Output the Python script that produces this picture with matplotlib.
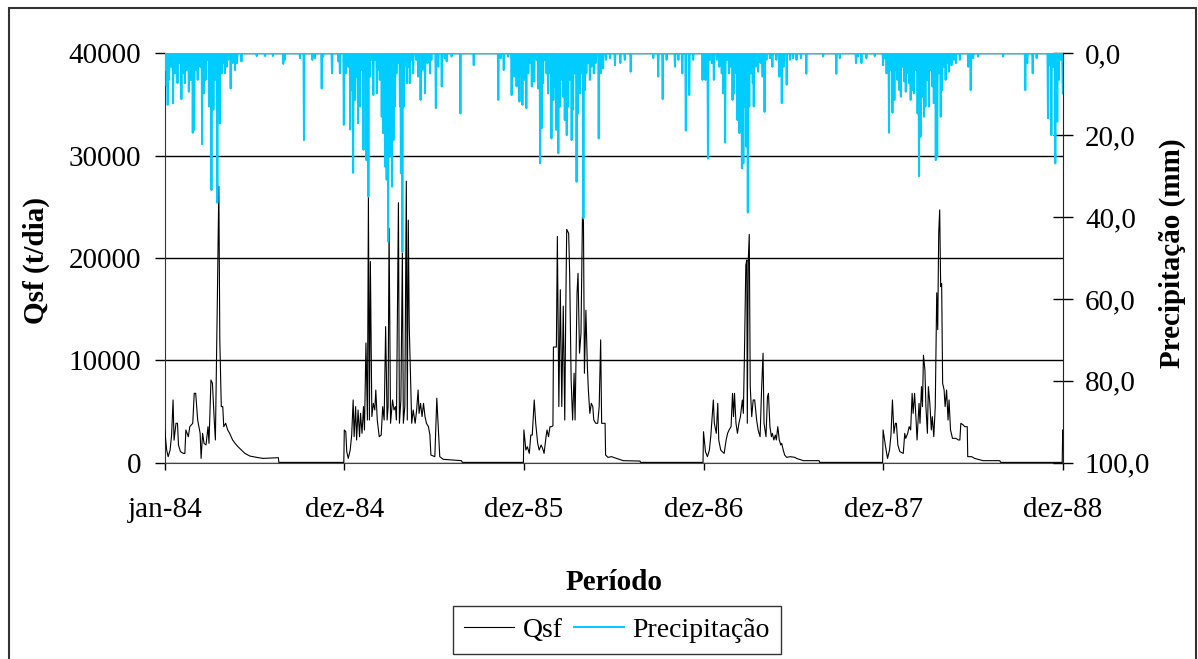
import numpy as np
import matplotlib.pyplot as plt
from matplotlib.patches import Rectangle

plt.rcParams['font.family'] = ['Liberation Serif', 'DejaVu Serif']

# daily index, 0 = 01/jan/1984
tick_days = [0, 365, 730, 1095, 1460, 1825]
tick_labels = ['jan-84', 'dez-84', 'dez-85', 'dez-86', 'dez-87', 'dez-88']

# Qsf (t/dia) breakpoints per wet season
qsf_day = [
    0, 4, 7, 11, 14, 17, 19, 23, 26, 28, 32, 38, 41, 43, 48, 51, 57, 60, 63, 67,
    72, 74, 77, 80, 84, 88, 90, 94, 97, 101, 103, 107, 110, 112, 115, 118, 120,
    124, 128, 132, 138, 143, 149, 156, 163, 173, 187, 200, 231, 232, 364,
    # 1985
    365, 368, 370, 373, 377, 380, 383, 385, 388, 390, 393, 396, 398, 401, 404,
    406, 409, 412, 414, 416, 418, 421, 424, 427, 429, 432, 436, 440, 443, 446,
    449, 452, 454, 456, 459, 463, 466, 469, 471, 475, 477, 480, 483, 485, 488,
    491, 493, 495, 497, 500, 502, 505, 509, 512, 515, 517, 520, 523, 526, 529,
    532, 536, 539, 541, 549, 553, 556, 559, 566, 603, 605, 729,
    # 1986
    730, 734, 737, 741, 744, 747, 751, 754, 758, 761, 765, 768, 771, 775, 777,
    780, 783, 786, 789, 790, 796, 798, 801, 804, 807, 810, 813, 815, 817, 821,
    823, 826, 829, 832, 834, 838, 840, 843, 846, 849, 851, 853, 856, 859, 861,
    864, 867, 870, 872, 876, 880, 883, 886, 888, 895, 896, 901, 908, 918, 932,
    966, 967, 1094,
    # 1987
    1095, 1099, 1103, 1107, 1110, 1115, 1117, 1121, 1124, 1126, 1130, 1133,
    1137, 1141, 1144, 1147, 1151, 1154, 1156, 1158, 1161, 1164, 1167, 1170,
    1174, 1176, 1178, 1181, 1183, 1184, 1186, 1188, 1190, 1193, 1196, 1199,
    1203, 1206, 1210, 1213, 1216, 1218, 1222, 1225, 1227, 1230, 1233, 1235,
    1238, 1241, 1243, 1246, 1249, 1252, 1254, 1257, 1260, 1264, 1271, 1281,
    1284, 1298, 1330, 1331, 1459,
    # 1988
    1460, 1465, 1469, 1473, 1476, 1479, 1482, 1485, 1487, 1490, 1494, 1501,
    1504, 1506, 1510, 1513, 1516, 1519, 1521, 1524, 1527, 1529, 1533, 1535,
    1538, 1540, 1542, 1545, 1547, 1550, 1552, 1555, 1558, 1560, 1563, 1566,
    1569, 1571, 1573, 1575, 1577, 1579, 1581, 1584, 1586, 1589, 1592, 1594,
    1597, 1601, 1608, 1613, 1616, 1618, 1623, 1626, 1631, 1632, 1640, 1646,
    1663, 1697, 1699, 1824, 1825, 1826,
]
qsf_val = [
    3200, 1240, 590, 1240, 2700, 6130, 2200, 3850, 3850, 1730, 1080, 910, 910,
    3200, 2540, 3520, 3850, 6780, 6780, 4170, 2870, 420, 2870, 1890, 1730, 3520,
    1890, 8080, 7760, 3850, 2220, 15900, 27000, 12000, 5480, 5480, 3520, 3850,
    3200, 2870, 2220, 1890, 1560, 1240, 910, 650, 520, 420, 490, 30, 30,
    # 1985
    3200, 3030, 1080, 420, 1240, 2700, 6130, 2540, 5480, 2220, 5150, 2540, 4820,
    2870, 5480, 3200, 11700, 4170, 26000, 4170, 19650, 4500, 5800, 5150, 7100,
    4170, 2540, 2700, 5480, 4170, 13300, 4170, 5480, 22900, 3850, 6130, 5150,
    5480, 4170, 25400, 3850, 6130, 20500, 3850, 5480, 27500, 4170, 23700, 13300,
    7760, 3850, 5150, 3850, 5150, 7100, 4820, 5800, 4500, 5800, 4500, 3850,
    3520, 2700, 750, 590, 6300, 3520, 590, 330, 200, 30, 30,
    # 1986
    3200, 1240, 1560, 910, 2700, 2700, 6130, 3850, 1890, 1240, 1730, 1400, 910,
    2540, 3200, 2540, 3520, 3520, 3600, 11300, 11300, 22100, 5480, 16900, 5480,
    15300, 4170, 14600, 22800, 22400, 18500, 8080, 4170, 8740, 4170, 16600,
    18500, 10700, 12600, 24000, 23700, 8740, 14900, 9390, 7100, 4820, 5800,
    5480, 4170, 3850, 3850, 5480, 12000, 3850, 3850, 750, 520, 590, 420, 200,
    160, 30, 30,
    # 1987
    3030, 1080, 590, 1240, 2700, 6130, 3850, 2870, 5800, 2220, 1240, 1080, 910,
    2220, 2870, 3200, 3520, 6780, 4500, 6780, 3850, 2870, 3850, 4500, 6130,
    4820, 10000, 19300, 19800, 3850, 19800, 22300, 7430, 4500, 6130, 6130,
    4170, 3200, 2540, 7100, 10700, 3850, 2540, 6450, 6780, 3520, 2540, 2870,
    2220, 2700, 2220, 3520, 2220, 1730, 1890, 1240, 750, 520, 590, 520, 420,
    200, 200, 30, 30,
    # 1988
    3200, 1560, 420, 1240, 2700, 6130, 2870, 3850, 3850, 1730, 1080, 910, 2870,
    2380, 2870, 3520, 3200, 6780, 4820, 6780, 4170, 2220, 5800, 3850, 7430,
    5480, 10500, 9060, 5480, 2870, 7430, 5800, 3200, 4500, 2540, 5480, 16600,
    13000, 22400, 24700, 17200, 17500, 7760, 7100, 5480, 7100, 4170, 6130,
    3200, 2380, 2380, 2220, 2220, 3850, 3680, 3520, 3520, 590, 590, 420, 200,
    200, 30, 30, 3200, 1200,
]

# daily rainfall (mm); days not listed had no rain
rain_day = [
    2, 4, 6, 9, 13, 17, 21, 26, 30, 34, 38, 41, 44, 49, 53, 57, 60, 63, 67, 72,
    76, 80, 83, 86, 90, 95, 99, 103, 107, 109, 112, 116, 119, 122, 126, 129,
    134, 138, 143, 147, 156, 187, 204, 220, 241, 244, 275, 283, 300, 305, 319,
    322, 340,
    353, 356, 364, 368, 373, 377, 380, 383, 387, 390, 393, 397, 400, 404, 407,
    410, 414, 417, 421, 424, 427, 431, 434, 437, 441, 444, 448, 451, 454, 456,
    459, 462, 465, 468, 471, 475, 478, 480, 483, 486, 489, 492, 495, 498, 502,
    505, 511, 515, 520, 524, 529, 534, 539, 542, 551, 556, 563, 569, 573, 583,
    601, 628, 678, 683,
    689, 698, 705, 710, 715, 721, 724, 727, 731, 735, 739, 742, 746, 751, 756,
    759, 763, 766, 769, 773, 776, 779, 783, 786, 790, 793, 796, 800, 803, 807,
    810, 813, 817, 820, 824, 827, 830, 834, 837, 840, 844, 847, 851, 854, 857,
    861, 864, 867, 872, 876, 882, 886, 891, 897, 905, 915, 926, 935, 947, 993,
    1003, 1012, 1020, 1037, 1044, 1052, 1059, 1066, 1074,
    1093, 1096, 1099, 1104, 1108, 1112, 1116, 1122, 1127, 1132, 1135, 1139,
    1143, 1147, 1151, 1154, 1157, 1161, 1164, 1168, 1170, 1173, 1176, 1179,
    1182, 1185, 1188, 1191, 1195, 1197, 1201, 1206, 1211, 1215, 1219, 1223,
    1230, 1235, 1243, 1249, 1254, 1258, 1264, 1271, 1277, 1284, 1293, 1304,
    1338, 1365, 1372, 1405, 1409, 1416, 1426, 1443,
    1460, 1464, 1467, 1472, 1476, 1479, 1483, 1486, 1489, 1493, 1496, 1500,
    1503, 1506, 1510, 1513, 1516, 1520, 1523, 1527, 1530, 1533, 1536, 1540,
    1543, 1546, 1550, 1553, 1556, 1560, 1563, 1567, 1570, 1573, 1577, 1580,
    1584, 1587, 1590, 1594, 1599, 1604, 1608, 1616, 1633, 1638, 1643, 1653,
    1704, 1749, 1753, 1764, 1772, 1795, 1799, 1802, 1806, 1810, 1814, 1817,
    1821, 1825,
]
rain_mm = [
    4.0, 8.0, 12.6, 6.5, 3.3, 12.2, 4.9, 7.3, 2.4, 11.2, 4.9, 7.3, 4.1, 9.4,
    6.5, 19.4, 18.7, 4.1, 6.5, 3.3, 22.2, 9.8, 6.5, 1.6, 13.0, 33.4, 13.8, 6.5,
    36.5, 11.4, 17.1, 4.9, 2.4, 4.9, 3.3, 1.6, 8.6, 2.4, 4.1, 2.4, 2.0, 0.7,
    0.7, 0.7, 2.6, 1.6, 1.2, 21.2, 1.6, 1.2, 8.6, 0.8, 4.9,
    2.0, 4.9, 17.5, 4.9, 3.3, 18.6, 9.0, 29.2, 11.4, 5.7, 17.1, 13.0, 4.1,
    23.6, 4.9, 26.1, 35.0, 5.7, 1.6, 10.2, 1.6, 9.8, 4.1, 6.5, 15.5, 19.5,
    27.7, 30.9, 46.0, 11.4, 25.2, 32.6, 21.2, 13.0, 4.9, 2.4, 13.0, 29.3, 48.5,
    13.0, 2.9, 7.3, 3.3, 7.3, 1.6, 4.9, 1.6, 5.7, 11.4, 4.1, 9.8, 2.4, 4.9,
    1.6, 13.4, 3.3, 8.1, 1.2, 2.0, 0.8, 14.7, 2.9, 11.4, 1.2,
    4.1, 0.8, 10.2, 5.7, 8.1, 11.8, 4.9, 12.6, 6.5, 13.4, 4.9, 2.4, 8.1, 6.9,
    1.6, 8.6, 26.9, 18.3, 7.3, 1.6, 4.9, 9.8, 4.9, 20.8, 11.4, 8.1, 18.7, 24.4,
    13.0, 6.5, 10.6, 16.3, 20.0, 13.0, 6.5, 21.2, 13.8, 4.9, 31.4, 14.7, 9.8,
    4.9, 40.3, 9.0, 4.9, 2.4, 6.5, 3.3, 4.9, 2.4, 20.8, 4.9, 3.7, 1.6, 1.2,
    2.9, 2.4, 1.6, 4.5, 1.2, 5.7, 11.2, 1.6, 3.3, 1.6, 4.9, 18.9, 10.2, 1.6,
    6.5, 3.3, 6.5, 25.7, 1.6, 2.4, 6.5, 1.6, 3.3, 4.9, 9.8, 21.8, 1.6, 4.9,
    3.3, 11.4, 9.8, 4.9, 16.3, 19.5, 10.6, 28.1, 26.9, 13.0, 22.8, 38.9, 13.0,
    4.9, 7.3, 13.0, 3.3, 4.5, 2.4, 5.7, 14.3, 1.6, 1.2, 3.3, 1.6, 5.7, 12.2,
    3.3, 7.7, 1.6, 1.2, 1.6, 1.2, 5.0, 0.8, 5.0, 1.2, 2.4, 0.8, 2.4, 1.2, 0.7,
    2.9, 1.2, 4.9, 19.4, 4.1, 14.5, 11.4, 4.1, 6.5, 9.0, 10.6, 3.3, 6.9, 9.4,
    4.9, 7.3, 11.4, 9.0, 9.8, 4.1, 14.7, 30.0, 20.4, 10.6, 15.5, 13.0, 6.5,
    13.0, 4.1, 8.1, 12.2, 26.1, 25.2, 4.9, 15.5, 9.0, 3.3, 6.5, 2.4, 4.5, 2.9,
    1.6, 2.4, 1.6, 3.3, 9.0, 1.2, 0.8, 0.8, 9.0, 2.4, 4.9, 1.2, 15.9, 2.9,
    20.0, 3.3, 26.9, 16.7, 6.5, 1.6, 9.8,
]

days = np.arange(1826)
rain = np.zeros(len(days))
rain[rain_day] = rain_mm

fig = plt.figure(figsize=(11.98, 6.59), dpi=100)
ax = fig.add_axes([164.7 / 1198, 1 - 462.7 / 659, 898 / 1198, 409.4 / 659])

ax.plot(qsf_day, qsf_val, color='black', lw=0.8, label='Qsf', zorder=3)
ax.set_xlim(0, 1825)
ax.set_ylim(0, 40000)
ax.set_yticks(range(0, 40001, 10000))
ax.yaxis.grid(True, color='black', lw=1)
ax.set_axisbelow(True)
ax.set_xticks(tick_days)
ax.set_xticklabels(tick_labels)
ax.tick_params(axis='y', direction='out', length=7, width=1, pad=10, labelsize=21)
ax.tick_params(axis='x', direction='out', length=5, width=1, pad=20, labelsize=21)
ax.spines['top'].set_visible(False)
ax.spines['right'].set_visible(False)
ax.spines['left'].set_color('#333333')
ax.spines['bottom'].set_color('#444444')

ax2 = ax.twinx()
ax2.plot(days, rain, color='#00CCFF', lw=1.4, label='Precipitação')
ax2.set_ylim(100, 0)
ax2.set_yticks(range(0, 101, 20))
ax2.set_yticklabels([f'{v:.1f}'.replace('.', ',') for v in range(0, 101, 20)])
ax2.tick_params(axis='y', direction='inout', length=14, width=1, pad=9, labelsize=21)
ax2.spines['top'].set_visible(False)
ax2.spines['left'].set_visible(False)
ax2.spines['bottom'].set_visible(False)
ax2.spines['right'].set_color('#222222')

fig.text(36 / 1198, 1 - 260 / 659, 'Qsf (t/dia)', rotation=90, ha='center',
         va='center', fontsize=21, fontweight='bold')
fig.text(1172 / 1198, 1 - 253 / 659, 'Precipitação (mm)', rotation=90,
         ha='center', va='center', fontsize=21, fontweight='bold')
fig.text(614 / 1198, 1 - 583 / 659, 'Período', ha='center', va='center',
         fontsize=21, fontweight='bold')

h1, l1 = ax.get_legend_handles_labels()
h2, l2 = ax2.get_legend_handles_labels()
leg = fig.legend(h1 + h2, l1 + l2, loc='center', ncol=2,
                 bbox_to_anchor=(617 / 1198, 1 - 630 / 659), fontsize=20,
                 frameon=True, fancybox=False, handlelength=1.8,
                 handletextpad=0.3, columnspacing=0.4, borderpad=0.4)
leg.get_frame().set_edgecolor('black')
leg.get_frame().set_linewidth(1.0)

fig.patches.append(Rectangle((9 / 1198, -0.05), 1187 / 1198, 1.05 - 7.5 / 659,
                             transform=fig.transFigure, fill=False,
                             edgecolor='#333333', lw=1.5))

fig.savefig('out.png', dpi=100)
